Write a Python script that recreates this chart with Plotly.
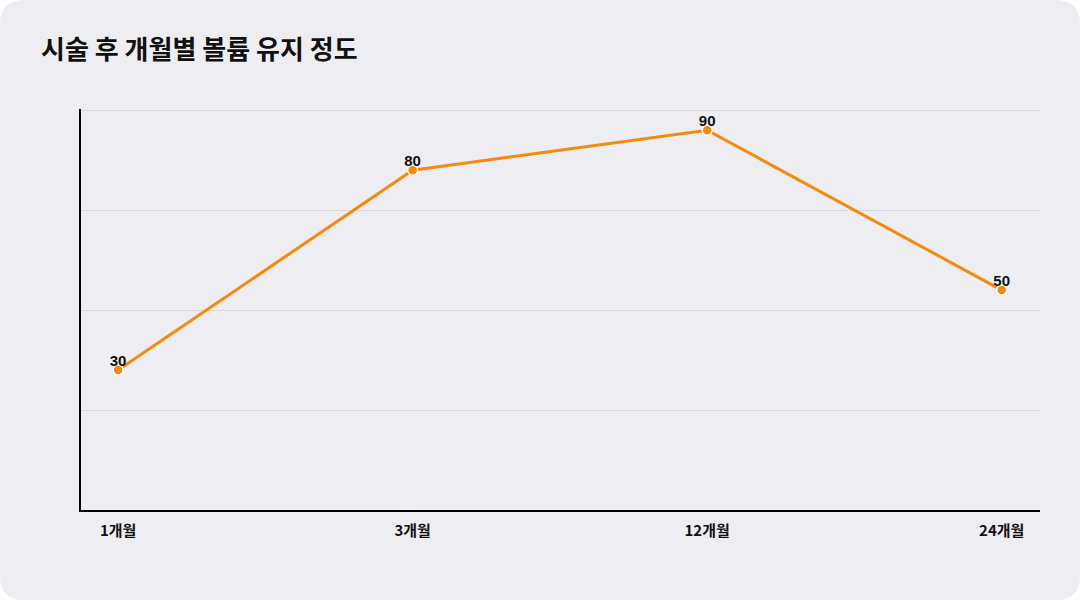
import plotly.graph_objects as go

categories = ["1개월", "3개월", "12개월", "24개월"]
values = [30, 80, 90, 50]
title_text = "시술 후 개월별 볼륨 유지 정도"

W, H = 1080, 600
BG = "#eeedf2"
ORANGE = "#f5890a"

fig = go.Figure()
fig.add_trace(go.Scatter(
    x=categories, y=values,
    mode="lines+markers",
    line=dict(color=ORANGE, width=3),
    marker=dict(color=ORANGE, size=10, line=dict(color="white", width=1.5)),
    cliponaxis=False,
    hoverinfo="skip",
))
fig.add_trace(go.Scatter(
    x=categories, y=values,
    mode="text",
    text=[str(v) for v in values],
    textposition="top center",
    textfont=dict(family="'Liberation Sans', Arial, sans-serif", size=15, color="#111111", weight="bold"),
    cliponaxis=False,
    hoverinfo="skip",
))

# rounded card background
r = 24
rx, ry = r / W, r / H
path = (f"M {rx},0 L {1-rx},0 Q 1,0 1,{ry} L 1,{1-ry} Q 1,1 {1-rx},1 "
        f"L {rx},1 Q 0,1 0,{1-ry} L 0,{ry} Q 0,0 {rx},0 Z")

fig.update_layout(
    width=W, height=H,
    margin=dict(l=0, r=0, t=0, b=0),
    paper_bgcolor="white",
    plot_bgcolor="rgba(0,0,0,0)",
    showlegend=False,
    shapes=[dict(type="path", xref="paper", yref="paper", path=path,
                 fillcolor=BG, line=dict(width=0), layer="below")],
    annotations=[dict(text=f"<b>{title_text}</b>", xref="paper", yref="paper",
                      x=39 / W, y=1 - 47 / H, xanchor="left", yanchor="middle",
                      showarrow=False,
                      font=dict(family="'Noto Sans CJK KR', sans-serif", size=26, color="#111111"))],
    xaxis=dict(
        domain=[81 / W, 1040 / W],
        type="category",
        range=[-0.126, 3.13],
        showline=True, linecolor="#000000", linewidth=2,
        showgrid=False, zeroline=False, ticks="",
        ticklabelstandoff=6,
        tickfont=dict(family="'Noto Sans CJK KR', sans-serif", size=15, color="#111111", weight="bold"),
    ),
    yaxis=dict(
        domain=[1 - 510 / H, 1 - 109 / H],
        range=[-5, 95.3],
        tickvals=[20, 45, 70, 95],
        showticklabels=False,
        showline=True, linecolor="#000000", linewidth=2,
        showgrid=True, gridcolor="#d9d8dd", gridwidth=1,
        zeroline=False, ticks="",
    ),
)

fig.write_html("out.html")
